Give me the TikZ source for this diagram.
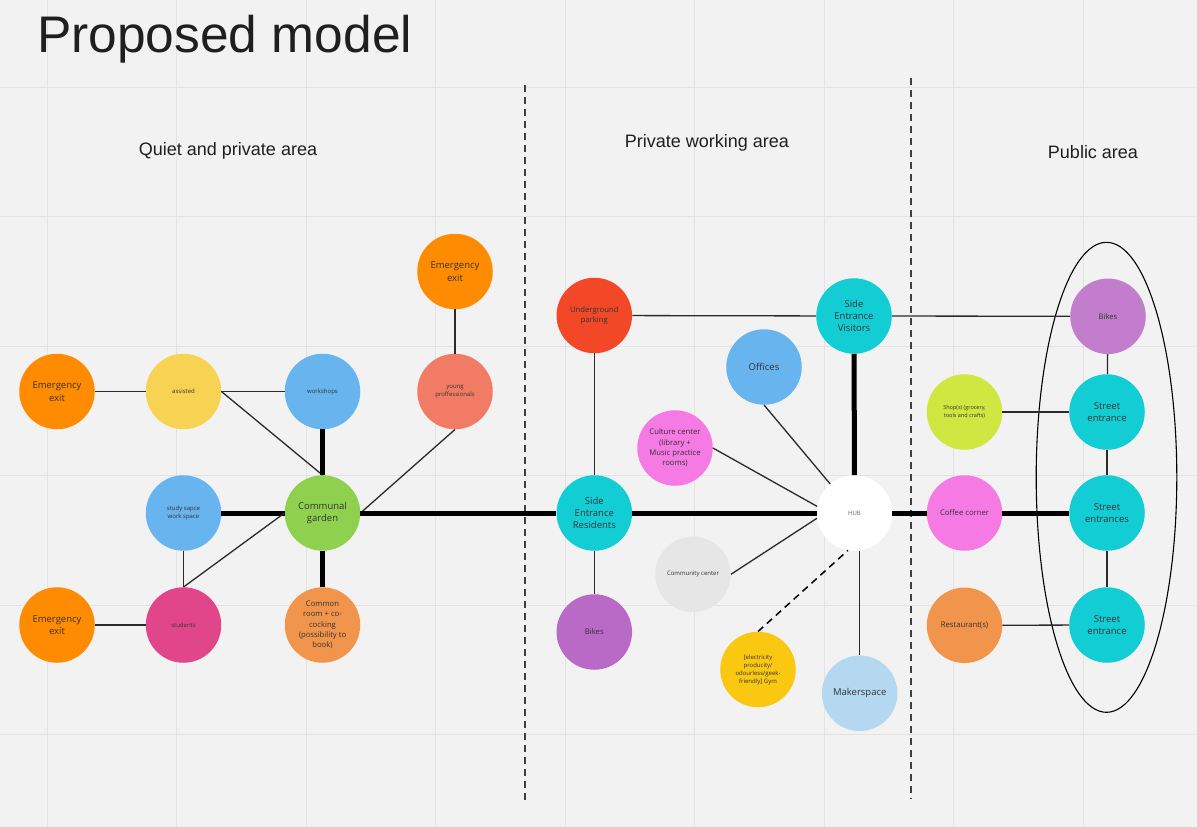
\documentclass[tikz,border=0pt]{standalone}
\usepackage{fontspec}
\setmainfont{Open Sans}
\newfontfamily\arialf{Liberation Sans}
\usetikzlibrary{calc}
\definecolor{bgc}{HTML}{F2F2F2}
\definecolor{gridc}{HTML}{E3E3E3}
\definecolor{txt}{HTML}{333333}
\definecolor{eeorange}{HTML}{FF8C00}
\definecolor{yellowc}{HTML}{F8D353}
\definecolor{bluec}{HTML}{68B4EE}
\definecolor{salmonc}{HTML}{F27B65}
\definecolor{greenc}{HTML}{8FD14F}
\definecolor{magentac}{HTML}{E2468A}
\definecolor{orangec}{HTML}{F2954C}
\definecolor{redc}{HTML}{F24828}
\definecolor{cyanc}{HTML}{13CDD4}
\definecolor{purplec}{HTML}{B86AC6}
\definecolor{purplelc}{HTML}{C27ECC}
\definecolor{pinkc}{HTML}{F67AE4}
\definecolor{greyc}{HTML}{E6E6E6}
\definecolor{goldc}{HTML}{FAC711}
\definecolor{paleblue}{HTML}{B5D8F1}
\definecolor{limec}{HTML}{CEE741}
\definecolor{linec}{HTML}{2A2A2A}
\begin{document}
\begin{tikzpicture}[x=1pt,y=-1pt,
  bub/.style={circle, minimum size=75.5pt, inner sep=0pt, align=center, text=txt},
  big/.style={font=\fontsize{9.5}{12.4}\selectfont},
  mid/.style={font=\fontsize{7.7}{10.4}\selectfont},
  sml/.style={font=\fontsize{6}{8}\selectfont},
  xsml/.style={font=\fontsize{5.5}{7.6}\selectfont},
  lnthin/.style={draw=linec, line width=1.3pt},
  lnthick/.style={draw=black, line width=5pt},
  lndash/.style={draw=black, line width=1.5pt, dash pattern=on 7pt off 5pt},
  divider/.style={draw=black!75, line width=1.6pt, dash pattern=on 7pt off 5pt},
  gridline/.style={draw=gridc, line width=1pt},
  header/.style={font=\arialf\fontsize{18}{20}\selectfont, text=black!88, anchor=base}
]
\fill[bgc] (0,0) rectangle (1197,827);
\useasboundingbox (0,0) rectangle (1197,827);
% grid
\foreach \gx in {47,176.5,306,435.5,565,694.5,824,953.5,1083}
  \draw[gridline] (\gx,0) -- (\gx,827);
\foreach \gy in {87,216.5,346,475.5,605,734.5}
  \draw[gridline] (0,\gy) -- (1197,\gy);
% title and headers
\node[font=\arialf\fontsize{51.5}{55}\selectfont, text=black!88, anchor=base west, inner sep=0pt] (title) at (37,52.5) {Proposed model};
\node[header] (hq) at (228,155) {Quiet and private area};
\node[header] (hp) at (707,147) {Private working area};
\node[header] (hpub) at (1093,158) {Public area};
% dividers
\draw[divider] (525,85) -- (525,804);
\draw[divider] (911,78) -- (911,799);
% ellipse
\draw[black, line width=1.1pt] (1106.5,477.3) ellipse [x radius=70.3, y radius=235];
% nodes: left
\node[bub, big, fill=eeorange] (ee1) at (57,391.5) {Emergency\\exit};
\node[bub, sml, fill=yellowc] (assisted) at (183.5,391.5) {assisted};
\node[bub, sml, fill=bluec] (workshops) at (322.5,391.5) {workshops};
\node[bub, big, fill=eeorange] (eetop) at (455,271.5) {Emergency\\exit};
\node[bub, sml, fill=salmonc] (young) at (455,391.5) {young\\proffessionals};
\node[bub, sml, fill=bluec] (study) at (183.5,513) {study sapce\\work space};
\node[bub, big, fill=greenc] (garden) at (322.5,513) {Communal\\garden};
\node[bub, big, fill=eeorange] (ee2) at (57,625) {Emergency\\exit};
\node[bub, sml, fill=magentac] (students) at (183.5,625) {students};
\node[bub, mid, fill=orangec] (common) at (322.5,625) {Common\\room + co-\\cocking\\(possibility to\\book)};
% nodes: middle
\node[bub, mid, fill=redc] (parking) at (594.3,315.5) {Underground\\parking};
\node[bub, big, fill=cyanc] (sev) at (854,316) {Side\\Entrance\\Visitors};
\node[bub, big, fill=bluec] (offices) at (764,367) {Offices};
\node[bub, mid, fill=pinkc] (culture) at (675,448) {Culture center\\(library +\\Music practice\\rooms)};
\node[bub, big, fill=cyanc] (ser) at (594.3,513) {Side\\Entrance\\Residents};
\node[bub, sml, fill=white, text=black!60] (hub) at (854.5,513) {HUB};
\node[bub, sml, fill=greyc] (community) at (693,574.3) {Community center};
\node[bub, mid, fill=purplec] (bikesm) at (594.3,632) {Bikes};
\node[bub, sml, fill=goldc] (gym) at (758,669.5) {[electricity\\producity/\\odourless/geek-\\friendly] Gym};
\node[bub, big, fill=paleblue] (maker) at (859.7,693.3) {Makerspace};
% nodes: right
\node[bub, mid, fill=purplelc] (bikesr) at (1108,316.3) {Bikes};
\node[bub, xsml, fill=limec] (shop) at (964.5,412) {Shop(s) (grocery,\\tools and crafts)};
\node[bub, big, fill=cyanc] (st1) at (1107,412) {Street\\entrance};
\node[bub, mid, fill=pinkc] (coffee) at (964.5,513) {Coffee corner};
\node[bub, big, fill=cyanc] (st2) at (1107,513) {Street\\entrances};
\node[bub, mid, fill=orangec] (rest) at (964.5,625.3) {Restaurant(s)};
\node[bub, big, fill=cyanc] (st3) at (1107,625) {Street\\entrance};
% connectors: left
\draw[lnthin] (ee1) -- (assisted);
\draw[lnthin] (assisted) -- (workshops);
\draw[lnthin] (assisted.east) -- (garden.north);
\draw[lnthick] (workshops) -- (garden);
\draw[lnthin] (eetop) -- (young);
\draw[lnthin] (young.south) -- (garden.east);
\draw[lnthick] (study) -- (garden);
\draw[lnthin] (study.south) -- (students.north);
\draw[lnthin] (students.north) -- (garden.west);
\draw[lnthin] (ee2) -- (students);
\draw[lnthick] (garden) -- (common);
\draw[lnthick] (garden) -- (ser);
% connectors: middle
\draw[lnthin] (parking) -- (ser);
\draw[lnthin] (ser) -- (bikesm);
\draw[lnthin] (parking) -- (sev);
\draw[lnthin] (sev) -- (bikesr);
\draw[lnthick] (sev) -- (hub);
\draw[lnthick] (ser) -- (hub);
\draw[lnthin] (offices.south) -- (hub);
\draw[lnthin] (culture.east) -- (hub.170);
\draw[lnthin] (community.east) -- (hub.188);
\draw[lndash] (gym.north) -- (hub.260);
\draw[lnthin] (maker.north) -- (maker.north |- hub.south);
% connectors: right
\draw[lnthick] (hub) -- (coffee);
\draw[lnthick] (coffee) -- (st2);
\draw[lnthin] (shop) -- (st1);
\draw[lnthin] (rest) -- (st3);
\draw[lnthin] (bikesr) -- (st1);
\draw[lnthin] (st1) -- (st2);
\draw[lnthin] (st2) -- (st3);
\end{tikzpicture}
\end{document}
